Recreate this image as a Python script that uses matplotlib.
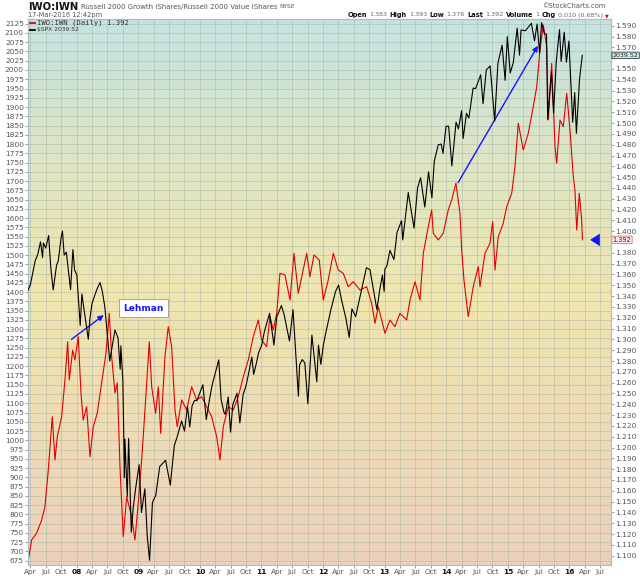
import numpy as np
import pandas as pd
import matplotlib
matplotlib.use("Agg")
import matplotlib.pyplot as plt
import matplotlib.transforms as mtransforms
from matplotlib.colors import LinearSegmentedColormap
from matplotlib.lines import Line2D

# S&P 500 (overlay, left scale)
spx_dates = [
    "2007-03-19", "2007-04-02", "2007-04-16", "2007-05-01", "2007-05-15", "2007-06-01", "2007-06-13",
    "2007-06-18", "2007-07-02", "2007-07-19", "2007-08-01", "2007-08-15", "2007-09-04", "2007-09-14",
    "2007-10-01", "2007-10-09", "2007-10-19", "2007-11-01", "2007-11-26", "2007-12-10", "2007-12-20",
    "2008-01-02", "2008-01-22", "2008-02-01", "2008-02-15", "2008-03-10", "2008-03-20", "2008-04-01",
    "2008-05-01", "2008-05-19", "2008-06-02", "2008-06-16", "2008-07-01", "2008-07-15", "2008-08-01",
    "2008-08-15", "2008-09-02", "2008-09-15", "2008-09-19", "2008-10-01", "2008-10-10", "2008-10-13",
    "2008-10-27", "2008-11-04", "2008-11-20", "2008-12-01", "2008-12-15", "2009-01-06", "2009-01-20",
    "2009-02-09", "2009-02-23", "2009-03-09", "2009-03-26", "2009-04-15", "2009-05-08", "2009-06-12",
    "2009-07-10", "2009-08-03", "2009-08-17", "2009-09-15", "2009-10-02", "2009-10-20", "2009-11-02",
    "2009-11-16", "2009-12-01", "2009-12-15", "2010-01-19", "2010-02-08", "2010-03-01", "2010-03-15",
    "2010-04-23", "2010-05-07", "2010-05-25", "2010-06-01", "2010-06-18", "2010-07-02", "2010-07-15",
    "2010-08-09", "2010-08-26", "2010-09-15", "2010-10-01", "2010-10-15", "2010-11-05", "2010-11-16",
    "2010-12-01", "2010-12-15", "2011-01-03", "2011-01-18", "2011-02-18", "2011-03-16", "2011-04-01",
    "2011-04-29", "2011-05-16", "2011-06-16", "2011-07-07", "2011-08-08", "2011-08-15", "2011-08-31",
    "2011-09-15", "2011-10-03", "2011-10-27", "2011-11-25", "2011-12-05", "2011-12-19", "2012-01-03",
    "2012-01-17", "2012-02-15", "2012-03-15", "2012-04-02", "2012-04-20", "2012-05-15", "2012-06-04",
    "2012-06-20", "2012-07-12", "2012-08-01", "2012-08-15", "2012-09-14", "2012-10-05", "2012-11-15",
    "2012-12-03", "2012-12-18", "2012-12-28", "2013-01-02", "2013-01-15", "2013-02-01", "2013-02-25",
    "2013-03-15", "2013-04-11", "2013-04-18", "2013-05-21", "2013-06-24", "2013-07-15", "2013-08-02",
    "2013-08-27", "2013-09-18", "2013-10-08", "2013-10-22", "2013-11-15", "2013-12-02", "2013-12-13",
    "2013-12-31", "2014-01-15", "2014-02-03", "2014-02-28", "2014-03-14", "2014-04-02", "2014-04-11",
    "2014-05-01", "2014-05-15", "2014-06-09", "2014-06-24", "2014-07-24", "2014-08-07", "2014-08-26",
    "2014-09-18", "2014-10-15", "2014-11-03", "2014-11-28", "2014-12-16", "2014-12-29", "2015-01-15",
    "2015-02-02", "2015-02-25", "2015-03-11", "2015-03-20", "2015-04-15", "2015-05-20", "2015-06-08",
    "2015-06-23", "2015-07-08", "2015-07-20", "2015-08-05", "2015-08-18", "2015-08-25", "2015-09-16",
    "2015-09-29", "2015-10-15", "2015-11-03", "2015-11-13", "2015-12-01", "2015-12-14", "2015-12-29",
    "2016-01-20", "2016-02-01", "2016-02-11", "2016-03-01", "2016-03-17",
]
spx_close = [
    1405, 1421, 1452, 1486, 1501, 1536, 1493,
    1533, 1519, 1553, 1465, 1406, 1473, 1484,
    1547, 1565, 1500, 1508, 1407, 1515, 1460,
    1447, 1310, 1395, 1349, 1273, 1330, 1370,
    1409, 1426, 1400, 1360, 1284, 1214, 1260,
    1298, 1277, 1192, 1255, 1161, 899, 1003,
    848, 1005, 752, 816, 868, 934, 805,
    869, 743, 676, 832, 852, 929, 946,
    879, 987, 1005, 1052, 1025, 1091, 1036,
    1093, 1108, 1107, 1150, 1056, 1115, 1150,
    1217, 1110, 1074, 1070, 1117, 1022, 1096,
    1127, 1047, 1125, 1146, 1176, 1225, 1178,
    1206, 1236, 1258, 1293, 1343, 1257, 1332,
    1364, 1338, 1268, 1353, 1119, 1204, 1218,
    1209, 1099, 1284, 1158, 1257, 1205, 1258,
    1290, 1350, 1402, 1419, 1378, 1330, 1278,
    1355, 1334, 1375, 1405, 1466, 1461, 1353,
    1409, 1446, 1402, 1462, 1472, 1513, 1488,
    1561, 1593, 1541, 1669, 1573, 1682, 1709,
    1630, 1725, 1655, 1754, 1798, 1800, 1775,
    1848, 1848, 1741, 1859, 1841, 1890, 1815,
    1883, 1870, 1951, 1950, 1987, 1909, 2000,
    2011, 1862, 2018, 2067, 1972, 2090, 1992,
    2020, 2113, 2040, 2108, 2106, 2126, 2079,
    2124, 2046, 2128, 2099, 2096, 1867, 1995,
    1884, 2023, 2109, 2023, 2102, 2021, 2078,
    1859, 1939, 1829, 1978, 2039.52,
]

# IWO:IWN ratio (right scale), dates as decimal years
ratio_t = [
    2007.214, 2007.269, 2007.351, 2007.432, 2007.485, 2007.539, 2007.604, 2007.648, 2007.685, 2007.756,
    2007.810, 2007.854, 2007.880, 2007.935, 2007.972, 2008.026, 2008.070, 2008.107, 2008.162, 2008.216,
    2008.269, 2008.334, 2008.406, 2008.476, 2008.529, 2008.568, 2008.622, 2008.659, 2008.703, 2008.756,
    2008.812, 2008.893, 2008.946, 2009.000, 2009.055, 2009.109, 2009.179, 2009.218, 2009.282, 2009.325,
    2009.364, 2009.433, 2009.487, 2009.542, 2009.596, 2009.633, 2009.705, 2009.786, 2009.867, 2009.948,
    2010.029, 2010.110, 2010.192, 2010.273, 2010.326, 2010.380, 2010.461, 2010.542, 2010.623, 2010.705,
    2010.786, 2010.867, 2010.948, 2011.003, 2011.084, 2011.138, 2011.192, 2011.247, 2011.300, 2011.382,
    2011.463, 2011.528, 2011.597, 2011.653, 2011.734, 2011.787, 2011.852, 2011.938, 2012.003, 2012.084,
    2012.166, 2012.247, 2012.328, 2012.409, 2012.490, 2012.599, 2012.708, 2012.789, 2012.843, 2012.896,
    2013.005, 2013.086, 2013.167, 2013.248, 2013.357, 2013.411, 2013.492, 2013.573, 2013.627, 2013.708,
    2013.763, 2013.789, 2013.870, 2013.951, 2014.032, 2014.088, 2014.157, 2014.222, 2014.250, 2014.287,
    2014.357, 2014.438, 2014.519, 2014.547, 2014.628, 2014.709, 2014.753, 2014.791, 2014.844, 2014.925,
    2014.981, 2015.062, 2015.115, 2015.169, 2015.250, 2015.331, 2015.412, 2015.468, 2015.521, 2015.575,
    2015.630, 2015.656, 2015.711, 2015.765, 2015.792, 2015.846, 2015.899, 2015.955, 2016.008, 2016.062,
    2016.089, 2016.117, 2016.159, 2016.198, 2016.210,
]
ratio_val = [
    1.096, 1.1145, 1.121, 1.133, 1.145, 1.179, 1.2285, 1.1885, 1.210, 1.2285,
    1.2624, 1.2978, 1.2624, 1.290, 1.281, 1.3025, 1.250, 1.2254, 1.2377, 1.1915,
    1.2193, 1.2316, 1.2597, 1.2874, 1.3241, 1.284, 1.2504, 1.2597, 1.1823, 1.1176,
    1.1545, 1.136, 1.1145, 1.1487, 1.1885, 1.2347, 1.2978, 1.2562, 1.2316, 1.2562,
    1.2131, 1.284, 1.3117, 1.2932, 1.2347, 1.2193, 1.244, 1.2347, 1.2562, 1.244,
    1.247, 1.2377, 1.2285, 1.210, 1.1885, 1.2193, 1.2377, 1.2347, 1.247, 1.2655,
    1.281, 1.3025, 1.3179, 1.2994, 1.2932, 1.321, 1.3087, 1.3241, 1.3611, 1.3595,
    1.3364, 1.3796, 1.3426, 1.3579, 1.3796, 1.3579, 1.378, 1.3734, 1.3364, 1.3549,
    1.3796, 1.3641, 1.3611, 1.3487, 1.3533, 1.3456, 1.3487, 1.3333, 1.3149, 1.3302,
    1.3056, 1.3179, 1.3117, 1.3241, 1.3179, 1.3364, 1.3533, 1.3364, 1.3796, 1.4042,
    1.4196, 1.3981, 1.3919, 1.3981, 1.4196, 1.4289, 1.4443, 1.4166, 1.3826, 1.3549,
    1.321, 1.3487, 1.3672, 1.3487, 1.3796, 1.3888, 1.4088, 1.3641, 1.3949, 1.4073,
    1.4227, 1.435, 1.4596, 1.4998, 1.4751, 1.4905, 1.5151, 1.5336, 1.5675, 1.5906,
    1.5706, 1.5028, 1.5552, 1.4781, 1.4628, 1.5028, 1.4966, 1.5275, 1.4936, 1.4504,
    1.4381, 1.4011, 1.435, 1.4104, 1.392,
]

years = list(range(2007, 2017))
month_names = ["", "Apr", "Jul", "Oct"]

# dates -> decimal years
d = pd.to_datetime(spx_dates)
spx_t = np.array(d.year + (d.dayofyear - 1) / 365.25)

W, H = 640, 576
fig = plt.figure(figsize=(W / 100, H / 100), dpi=100, facecolor="white")
ax = fig.add_axes([28 / W, 1 - 565 / H, 583 / W, 546 / H])
ax2 = ax.twinx()
# black overlay drawn over the red series
ax.set_zorder(ax2.get_zorder() + 1)
ax.patch.set_visible(False)

# background gradient
cmap = LinearSegmentedColormap.from_list("bg", [
    (0.0, "#ebd1bd"), (0.25, "#eedcb5"), (0.5, "#efe6af"),
    (0.75, "#dde5c5"), (1.0, "#c3e3e2")])
grad = np.linspace(0, 1, 256).reshape(-1, 1)
ax2.imshow(grad, extent=[0, 1, 0, 1], transform=ax2.transAxes, origin="lower",
           aspect="auto", cmap=cmap, zorder=0)

xmin, xmax = 2007.21, 2016.674
ax.set_xlim(xmin, xmax)
ax.set_ylim(663.2, 2137.7)
ax2.set_ylim(1.0914, 1.5962)

# grid
grid_kw = dict(color="#a9b5a6", lw=0.5, alpha=0.7, zorder=1)
quarters, qlabels = [], []
for y in years:
    for q in range(4):
        t = y + q * 0.25
        if xmin <= t <= xmax:
            quarters.append(t)
            qlabels.append(f"{y % 100:02d}" if q == 0 else month_names[q])
for t in quarters:
    ax2.axvline(t, **grid_kw)
left_ticks = np.arange(675, 2126, 25)
trans = mtransforms.blended_transform_factory(ax2.transAxes, ax.transData)
for v in left_ticks:
    ax2.plot([0, 1], [v, v], transform=trans, **grid_kw)

# series
ax2.plot(ratio_t, ratio_val, color="#e10000", lw=0.8, zorder=3)
ax.plot(spx_t, spx_close, color="black", lw=0.8, zorder=3)

# axes styling
ax.set_yticks(left_ticks)
ax.set_yticklabels([str(v) for v in left_ticks])
right_ticks = np.round(np.arange(1.10, 1.5901, 0.01), 3)
ax2.set_yticks(right_ticks)
# the two price tags cover 1.560 and 1.390
ax2.set_yticklabels(["" if v in (1.56, 1.39) else f"{v:.3f}" for v in right_ticks])
ax.set_xticks(quarters)
ax.set_xticklabels(qlabels)
for a in (ax, ax2):
    a.tick_params(axis="both", labelsize=5.3, length=2, width=0.5,
                  colors="#777777", labelcolor="#555555", pad=1)
    for s in a.spines.values():
        s.set_color("#a8c0c6")
        s.set_linewidth(0.8)
for lab, txt in zip(ax.get_xticklabels(), qlabels):
    if txt.isdigit():
        lab.set_fontweight("bold")
        lab.set_color("#111111")

# last value tags at the right edge
ax.text(1.003, 2039.52, "2039.52", transform=mtransforms.blended_transform_factory(ax.transAxes, ax.transData),
        fontsize=4.5, color="#222222", va="center", ha="left", clip_on=False, zorder=10,
        bbox=dict(boxstyle="round,pad=0.12", fc="#cdeef0", ec="#333333", lw=0.6))
ax2.text(1.003, 1.392, "1.392", transform=mtransforms.blended_transform_factory(ax2.transAxes, ax2.transData),
         fontsize=4.7, color="#222222", va="center", ha="left", clip_on=False, zorder=10,
         bbox=dict(boxstyle="round,pad=0.12", fc="#fdeaea", ec="#e07070", lw=0.6))

# annotations
blue = "#1414ff"
ax2.annotate("", xy=(2008.476, 1.324), xytext=(2007.88, 1.2985),
             arrowprops=dict(arrowstyle="-|>", color=blue, lw=1.0, mutation_scale=8), zorder=6)
ax2.annotate("", xy=(2015.51, 1.5737), xytext=(2014.169, 1.4427),
             arrowprops=dict(arrowstyle="-|>", color=blue, lw=1.0, mutation_scale=8), zorder=6)
ax2.annotate("", xy=(2016.29, 1.392), xytext=(2016.44, 1.392),
             arrowprops=dict(arrowstyle="simple,head_width=0.9,head_length=0.7,tail_width=0.45",
                             color=blue, lw=0), zorder=6)
ax2.text(2009.084, 1.329, "Lehman", fontsize=6.5, fontweight="bold", color=blue,
         ha="center", va="center", zorder=7,
         bbox=dict(boxstyle="square,pad=0.45", fc="white", ec="#999999", lw=0.6))

# legend inside the plot
fig.add_artist(Line2D([30 / W, 35 / W], [1 - 22.5 / H] * 2, color="#e10000", lw=1.3))
fig.text(37 / W, 1 - 22.5 / H, "IWO:IWN (Daily) 1.392", fontsize=5.2, family="DejaVu Sans Mono",
         color="#333333", va="center")
fig.add_artist(Line2D([30 / W, 35 / W], [1 - 29.5 / H] * 2, color="black", lw=1.3))
fig.text(37 / W, 1 - 29.5 / H, "$SPX 2039.52", fontsize=4.3, color="#333333", va="center")

# header
rend = fig.canvas.get_renderer()


def chain(x0, y0, parts, gap=1.5, right=None):
    texts = []
    for s, bold, col, size in parts:
        texts.append(fig.text(0, 1 - y0 / H, s, fontsize=size, color=col, va="center", ha="left",
                              fontweight="bold" if bold else "normal"))
    widths = [t.get_window_extent(renderer=rend).width for t in texts]
    if right is not None:
        x0 = right - sum(widths) - gap * (len(widths) - 1)
    x = x0
    for t, w in zip(texts, widths):
        t.set_x(x / W)
        x += w + gap
    return x


chain(28, 6.5, [("IWO:IWN", True, "#111111", 7.2),
                ("Russell 2000 Growth iShares/Russell 2000 Value iShares", False, "#555555", 5.0),
                ("NYSE", False, "#555555", 4.2)], gap=2.5)
fig.text(28 / W, 1 - 15 / H, "17-Mar-2016 12:42pm", fontsize=4.8, color="#555555", va="center")
fig.text(605 / W, 1 - 5.5 / H, "©StockCharts.com", fontsize=4.8, color="#555555", va="center", ha="right")
chain(0, 15, [("Open", True, "#111111", 4.8), ("1.383", False, "#666666", 4.6),
              ("High", True, "#111111", 4.8), ("1.393", False, "#666666", 4.6),
              ("Low", True, "#111111", 4.8), ("1.376", False, "#666666", 4.6),
              ("Last", True, "#111111", 4.8), ("1.392", False, "#666666", 4.6),
              ("Volume", True, "#111111", 4.8), ("1", False, "#666666", 4.6),
              ("Chg", True, "#111111", 4.8), ("0.010 (0.68%)", False, "#666666", 4.6)],
      gap=2.2, right=603)
fig.text(605 / W, 1 - 15.5 / H, "▼", fontsize=3.5, color="#e00000", va="center", ha="left")

fig.savefig("out.png", dpi=100, facecolor="white")
